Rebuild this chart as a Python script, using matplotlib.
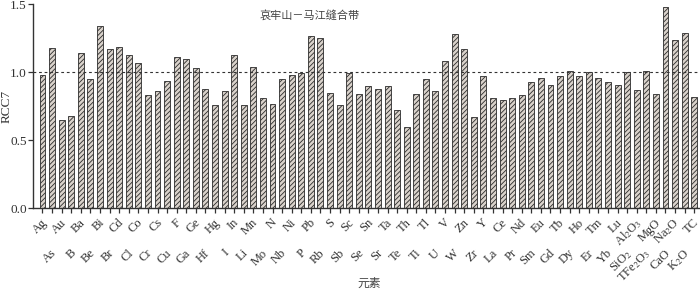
import numpy as np
import matplotlib
matplotlib.use("Agg")
import matplotlib.pyplot as plt
from matplotlib.transforms import offset_copy

plt.rcParams['font.family'] = ['Liberation Serif', 'Noto Sans CJK SC', 'DejaVu Sans']
plt.rcParams['mathtext.fontset'] = 'stix'
plt.rcParams['hatch.linewidth'] = 0.6

# 元素 / RCC7
elementos = ['Ag', 'As', 'Au', 'B', 'Ba', 'Be', 'Bi', 'Br', 'Cd', 'Cl', 'Co', 'Cr', 'Cs',
             'Cu', 'F', 'Ga', 'Ge', 'Hf', 'Hg', 'I', 'In', 'Li', 'Mn', 'Mo', 'N', 'Nb',
             'Ni', 'P', 'Pb', 'Rb', 'S', 'Sb', 'Sc', 'Se', 'Sn', 'Sr', 'Ta', 'Te', 'Th',
             'Ti', 'Tl', 'U', 'V', 'W', 'Zn', 'Zr', 'Y', 'La', 'Ce', 'Pr', 'Nd', 'Sm',
             'Eu', 'Gd', 'Tb', 'Dy', 'Ho', 'Er', 'Tm', 'Yb', 'Lu', r'SiO$_2$',
             r'Al$_2$O$_3$', r'TFe$_2$O$_3$', 'MgO', 'CaO', r'Na$_2$O', r'K$_2$O', 'TC']

rcc7 = [0.98, 1.18, 0.65, 0.68, 1.14, 0.95, 1.34, 1.17, 1.19, 1.13, 1.07, 0.83, 0.86,
        0.94, 1.11, 1.10, 1.03, 0.88, 0.76, 0.86, 1.13, 0.76, 1.04, 0.81, 0.77, 0.95,
        0.98, 0.995, 1.27, 1.25, 0.85, 0.76, 0.995, 0.84, 0.90, 0.88, 0.90, 0.72, 0.60,
        0.84, 0.95, 0.86, 1.08, 1.28, 1.17, 0.67, 0.97, 0.81, 0.80, 0.81, 0.83, 0.93,
        0.96, 0.91, 0.97, 1.01, 0.97, 1.00, 0.96, 0.93, 0.91, 1.00,
        0.87, 1.01, 0.84, 1.48, 1.24, 1.29, 0.82]

titulo = '哀牢山－马江缝合带'

fig = plt.figure(figsize=(7, 2.89), dpi=100)
ax = fig.add_axes([0.047, 0.279, 0.953, 0.706])

x = np.arange(len(elementos))
ax.bar(x, rcc7, width=0.62, color='#d9d2cb', edgecolor='#2b2b2b',
       hatch='///////', linewidth=0.6, zorder=2)

ax.axhline(1.0, color='#333333', linestyle=(0, (2.5, 2.5)), linewidth=0.8, zorder=3)

ax.set_xlim(-1.0, len(elementos) - 0.4)
ax.set_ylim(0, 1.5)
ax.set_yticks([0.0, 0.5, 1.0, 1.5])
ax.set_yticklabels(['0.0', '0.5', '1.0', '1.5'], fontsize=9.5, color='#333333')
ax.set_xticks(x)
ax.set_xticklabels([])
ax.tick_params(axis='both', direction='out', length=3.5, width=0.9, color='#333333', pad=1)

for s in ['top', 'right']:
    ax.spines[s].set_visible(False)
for s in ['left', 'bottom']:
    ax.spines[s].set_color('#333333')
    ax.spines[s].set_linewidth(1.0)

# rótulos em duas linhas alternadas
trans = ax.get_xaxis_transform()
for i, nome in enumerate(elementos):
    dy = 9 if i % 2 == 0 else 31
    t = offset_copy(trans, fig=fig, x=2, y=-dy, units='points')
    ax.text(i, 0, nome, transform=t, rotation=45, rotation_mode='anchor',
            ha='right', va='center', fontsize=9, color='#333333')

ax.set_ylabel('RCC7', fontsize=9.5, color='#333333')
ax.yaxis.set_label_coords(-0.031, 0.5)
ax.text(0.415, 0.945, titulo, transform=ax.transAxes, ha='center', va='center',
        fontsize=8, color='#444444', family=['Noto Sans CJK SC'])
fig.text(0.528, 0.02, '元素', ha='center', va='center', fontsize=8.5,
         color='#444444', family=['Noto Sans CJK SC'])

plt.savefig('out.png', dpi=100)
